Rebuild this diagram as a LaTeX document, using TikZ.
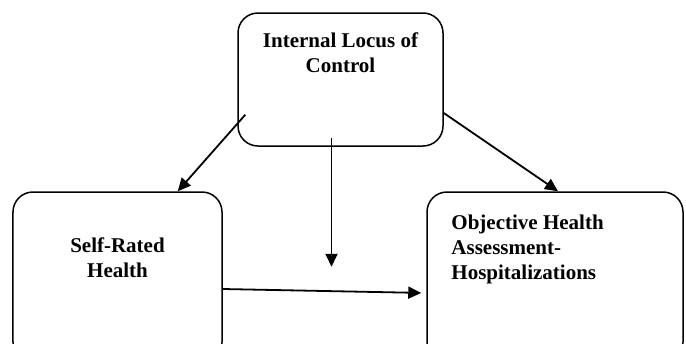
\documentclass[tikz,border=0pt]{standalone}
\usepackage{fontspec}
\setmainfont{Liberation Serif}
\usepackage{tikz}
\usetikzlibrary{calc,arrows.meta}

\tikzset{
  box/.style={draw, line width=1.5bp, rounded corners=20bp, inner sep=0pt},
  boxtext/.style={inner sep=0pt, font=\bfseries\fontsize{21bp}{25bp}\selectfont},
  link/.style={line width=1.8bp, -{Triangle[length=13bp,width=12bp]}}
}

\begin{document}
\begin{tikzpicture}[x=1bp,y=-1bp]
            \useasboundingbox (0,0) rectangle (686,343);

            \node[box, minimum width=205bp, minimum height=133bp,
                  label={[boxtext, anchor=north, align=center, yshift=-20bp]north:Internal Locus of\\Control}]
                  (loc) at (340.5,79.5) {};
            \node[box, minimum width=209bp, minimum height=170bp,
                  label={[boxtext, anchor=north, align=center, yshift=-46bp]north:Self-Rated\\Health}]
                  (srh) at (117.5,277) {};
            \node[box, minimum width=256bp, minimum height=170bp,
                  label={[boxtext, anchor=north west, align=left, xshift=25bp, yshift=-23bp]north west:Objective Health\\Assessment-\\Hospitalizations}]
                  (obj) at (555,277) {};

            \coordinate (mid) at ($(loc.south)+(-9,120)$);

            \draw[link] ($(loc.south west)+(8,-32)$) -- ($(srh.north east)+(-45,0)$);
            \draw[link] ($(loc.south)+(-9,-9)$) -- (mid);
            \draw[link] ($(loc.east)+(0,33.5)$) -- ($(obj.north)+(3,0)$);
            \draw[link, shorten >=5bp] ($(srh.east)+(0,12)$) -- ($(obj.west)+(0,16)$);

        \end{tikzpicture}
\end{document}
